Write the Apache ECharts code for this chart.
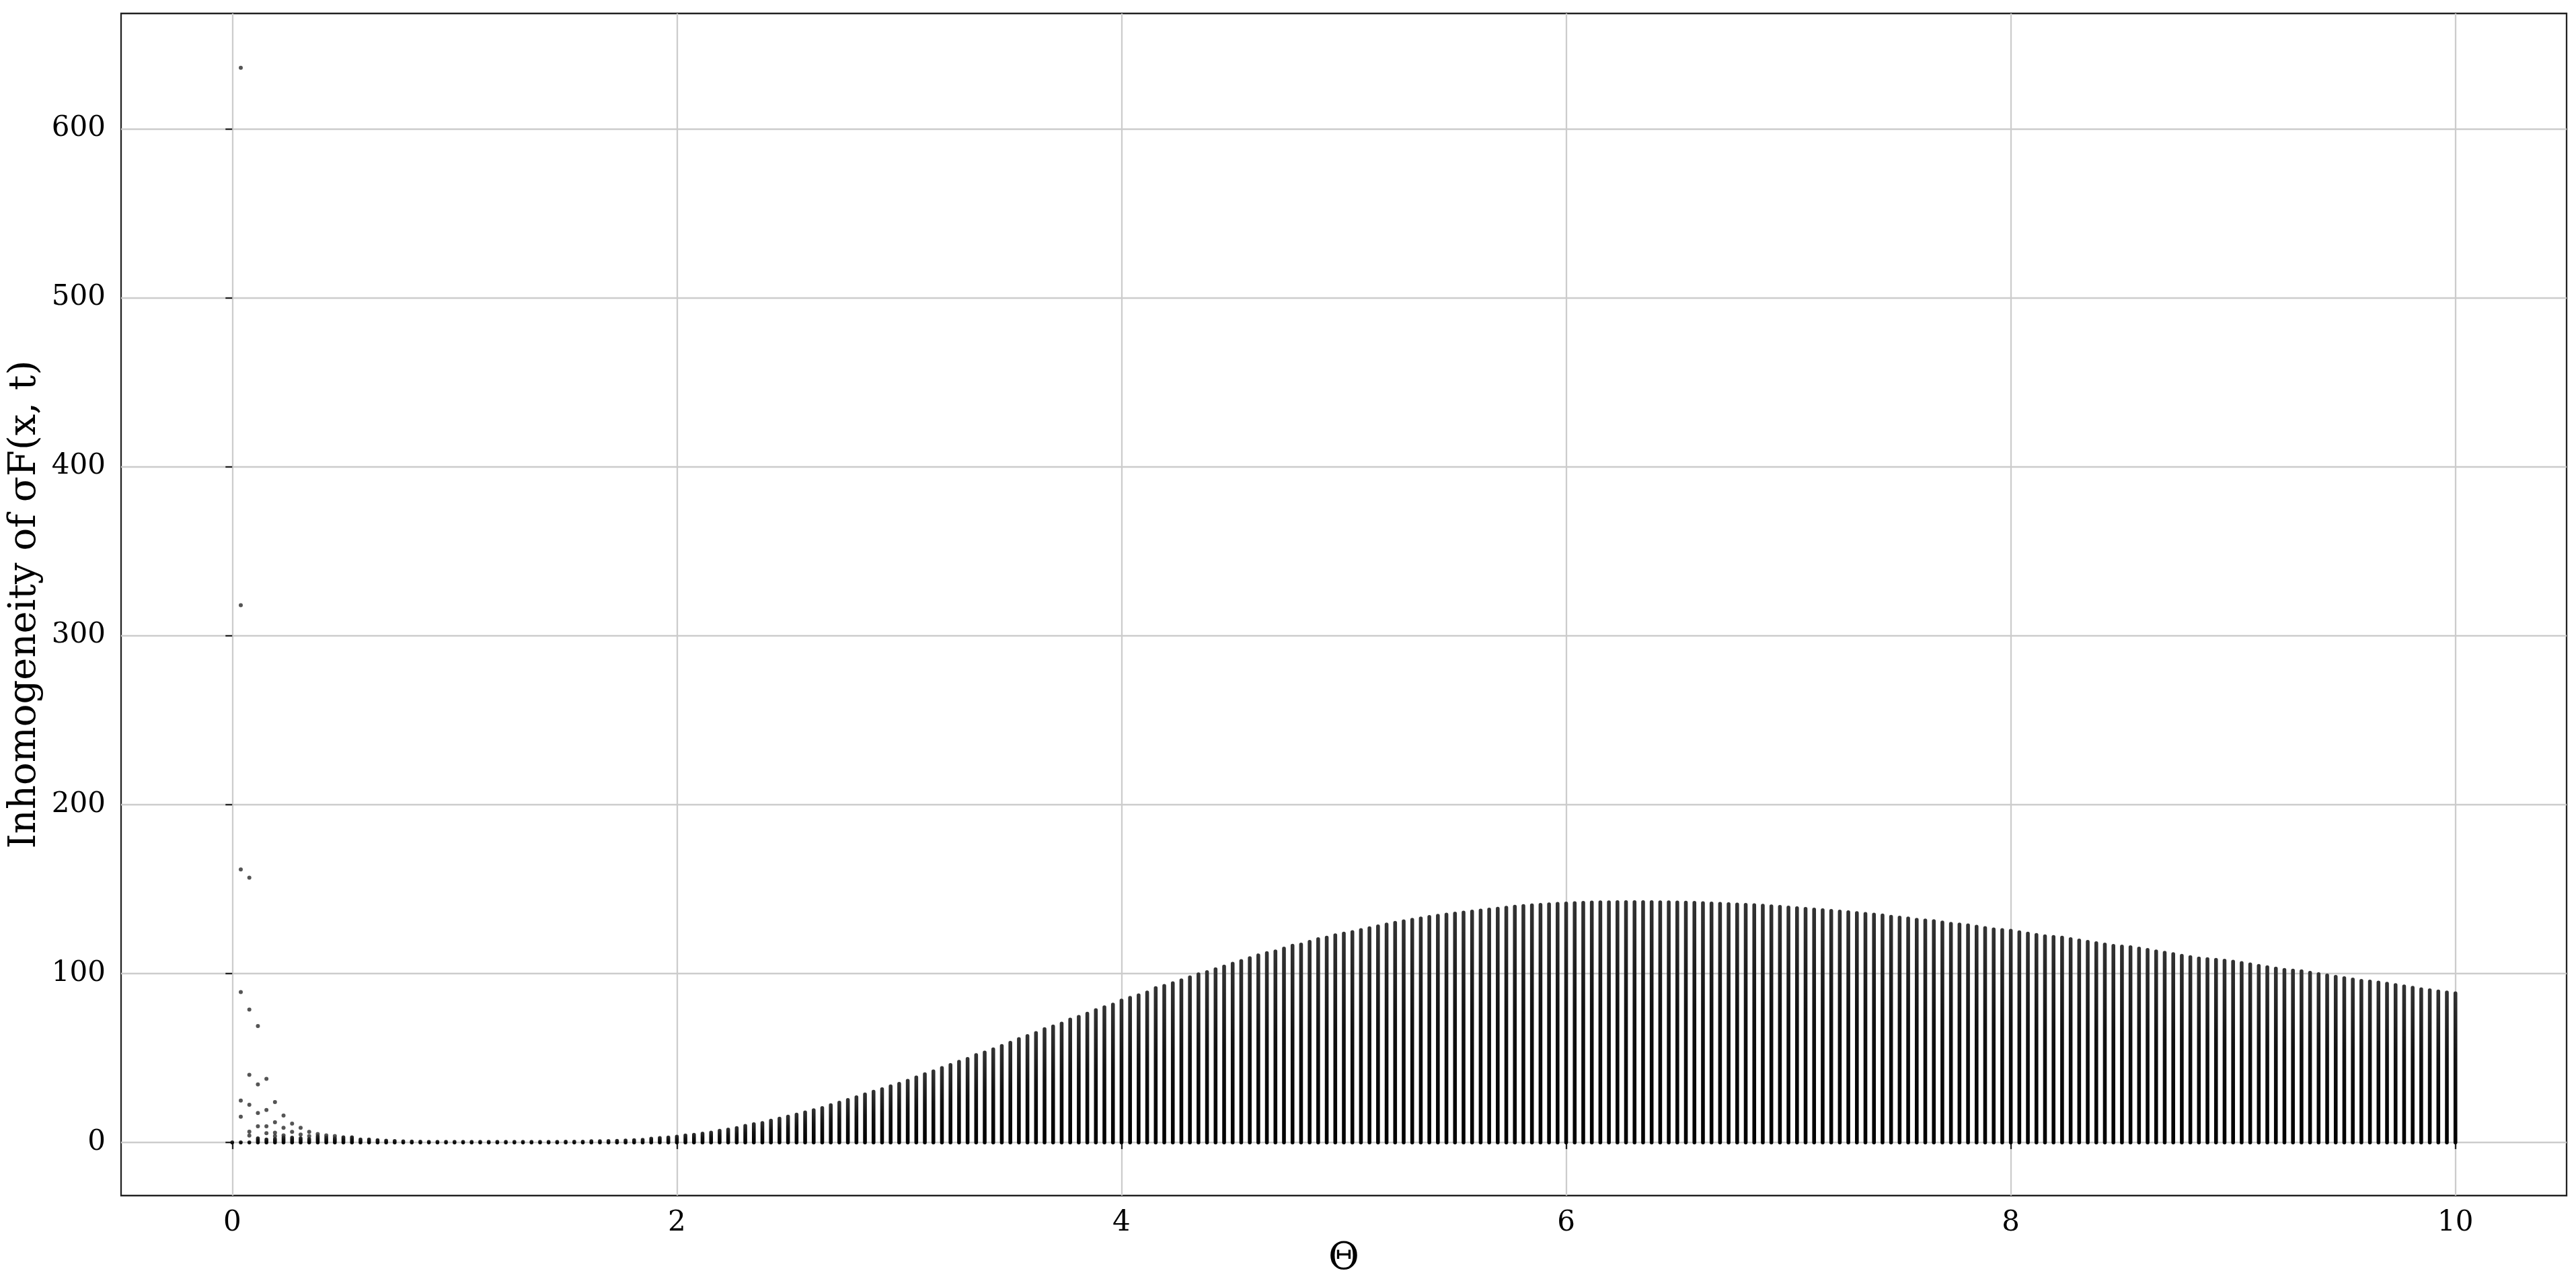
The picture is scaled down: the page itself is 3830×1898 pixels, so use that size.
<!DOCTYPE html>
<html>
<head>
<meta charset="utf-8">
<script src="https://cdn.jsdelivr.net/npm/echarts@6/dist/echarts.min.js"></script>
<style>
  html, body { margin: 0; padding: 0; background: #ffffff; }
  #chart { width: 3830px; height: 1898px; }
</style>
</head>
<body>
<div id="chart"></div>
<script>
// ---- Data ----
// Upper end of the dense point column at each Θ sample (Θ from 0 to 10, 261 samples)
const colMaxLow = [ // Θ ≈ 0.00 – 1.96
  0, 0, 0, 2.4, 1.7, 2.0, 3.0, 2.8, 2.4, 2.0,
  3.7, 3.0, 2.4, 3.0, 3.0, 1.7, 1.7, 1.3, 1.0, 0.8,
  0.6, 0.5, 0.4, 0.3, 0.3, 0.3, 0.3, 0.3, 0.3, 0.3,
  0.3, 0.3, 0.3, 0.3, 0.3, 0.3, 0.3, 0.3, 0.3, 0.4,
  0.4, 0.4, 0.7, 0.7, 0.8, 0.9, 1.1, 1.3, 1.5, 2.2,
  2.6, 2.9
];
const colMaxRise = [ // Θ ≈ 2.00 – 5.00
  3.4, 4.1, 4.5, 5.2, 5.8, 6.9, 7.6, 8.5, 9.8, 10.8,
  11.5, 12.9, 14.1, 15.3, 16.5, 17.8, 19.1, 20.4, 22.0, 23.5,
  25.1, 26.7, 28.4, 30.0, 31.5, 33.2, 34.7, 36.5, 38.5, 40.4,
  42.1, 44.0, 45.8, 47.7, 49.4, 51.7, 53.2, 55.1, 57.1, 59.0,
  61.2, 63.0, 64.8, 67.0, 68.6, 70.3, 72.7, 74.3, 76.2, 78.3,
  80.0, 81.6, 84.0, 85.6, 87.1, 88.7, 91.3, 92.6, 94.2, 95.9,
  97.7, 99.5, 100.8, 102.5, 104.1, 105.8, 107.4, 109.1, 110.7, 112.0,
  113.0, 114.7, 116.4, 117.1, 118.7, 120.3, 121.2, 122.6, 123.6
];
const colMaxPeak = [ // Θ ≈ 5.04 – 7.69
  124.5, 125.7, 126.8, 127.9, 129.0, 130.0, 130.9, 131.8, 132.6, 133.4,
  134.1, 134.8, 135.4, 136.0, 136.6, 137.2, 137.8, 138.3, 138.9, 139.5,
  139.9, 140.3, 140.6, 140.9, 141.2, 141.4, 141.6, 141.8, 142.0, 142.1,
  142.1, 142.2, 142.2, 142.2, 142.2, 142.2, 142.1, 142.1, 142.0, 141.9,
  141.8, 141.6, 141.4, 141.2, 141.0, 140.8, 140.6, 140.4, 140.1, 139.7,
  139.4, 139.0, 138.6, 138.2, 137.8, 137.4, 137.0, 136.6, 136.2, 135.7,
  135.2, 134.8, 134.3, 133.5, 133.1, 132.6, 131.8, 131.4, 131.0, 130.2
];
const colMaxTail = [ // Θ ≈ 7.73 – 10.00
  129.4, 129.0, 128.5, 127.7, 126.9, 126.1, 125.7, 125.3, 124.4, 123.6,
  122.8, 122.0, 121.6, 121.2, 120.3, 119.5, 118.7, 117.9, 117.1, 116.3,
  115.9, 115.5, 114.7, 113.9, 113.0, 112.2, 111.4, 110.5, 109.7, 108.9,
  108.5, 108.1, 107.6, 107.0, 106.2, 105.4, 104.5, 103.7, 102.9, 102.1,
  101.7, 101.3, 100.4, 99.6, 98.8, 98.0, 97.2, 96.4, 95.6, 95.2,
  94.6, 93.9, 93.1, 92.3, 91.5, 90.6, 90.0, 89.3, 88.7, 88.2
];
// Isolated points at small Θ: sample index of the column and value
const outlierColumn = [1, 1, 1, 1, 1, 1, 2, 2, 2, 2, 2, 2, 3, 3, 3, 3, 4, 4, 4, 4,
  5, 5, 5, 5, 6, 6, 6, 7, 7, 8, 8, 9, 9, 10, 11, 12];
const outlierValue = [636, 318, 161.5, 89.0, 24.8, 15.2, 156.7, 78.6, 40.0, 22.3, 6.3, 4.0,
  68.9, 34.3, 17.4, 9.5, 37.6, 19.2, 9.5, 5.4, 23.9, 11.9, 5.7, 3.7, 15.9, 8.6, 4.1,
  11.1, 6.2, 8.6, 4.6, 6.2, 3.7, 4.9, 4.1, 3.7];
const xTicks = [0, 2, 4, 6, 8, 10];
const yTicks = [0, 100, 200, 300, 400, 500, 600];
const THETA_START = 0, THETA_END = 10;

// ---- Build series data ----
const colMax = colMaxLow.concat(colMaxRise, colMaxPeak, colMaxTail);
const nCols = colMax.length;
const thetaOf = i => THETA_START + i * (THETA_END - THETA_START) / (nCols - 1);
const columnData = colMax.map((m, i) => [thetaOf(i), 0, m]);
const outlierData = outlierColumn.map((c, i) => [thetaOf(c), outlierValue[i]]);

const FONT = "'DejaVu Serif', 'Liberation Serif', serif";
const INK = '#222222';
const COL_W = 5.6;

const chart = echarts.init(document.getElementById('chart'), null, { renderer: 'canvas' });
chart.setOption({
  backgroundColor: '#ffffff',
  animation: false,
  grid: {
    left: 180, right: 14, top: 20, bottom: 121,
    outerBoundsMode: 'none', containLabel: false,
    show: true, borderColor: INK, borderWidth: 2.3, backgroundColor: 'transparent'
  },
  xAxis: {
    type: 'value', min: -0.5, max: 10.5,
    minInterval: 2, maxInterval: 2, splitNumber: 5,
    name: 'Θ', nameLocation: 'middle', nameGap: 60,
    nameTextStyle: { fontFamily: FONT, fontSize: 56, color: '#000' },
    axisLine: { show: false },
    axisTick: { show: true, length: 10, customValues: xTicks, lineStyle: { color: INK, width: 2.3 } },
    axisLabel: { show: true, margin: 20, customValues: xTicks, fontFamily: FONT, fontSize: 42, color: '#000',
      formatter: v => String(v) },
    splitLine: { show: true, lineStyle: { color: '#cccccc', width: 2.3 } }
  },
  yAxis: {
    type: 'value', min: -31.5, max: 668.2,
    minInterval: 100, maxInterval: 100, splitNumber: 7,
    name: 'Inhomogeneity of σF(x, t)', nameLocation: 'middle', nameGap: 110,
    nameTextStyle: { fontFamily: FONT, fontSize: 56, color: '#000' },
    axisLine: { show: false },
    axisTick: { show: true, length: 10, customValues: yTicks, lineStyle: { color: INK, width: 2.3 } },
    axisLabel: { show: true, margin: 23, customValues: yTicks, fontFamily: FONT, fontSize: 42, color: '#000',
      formatter: v => String(v) },
    splitLine: { show: true, lineStyle: { color: '#cccccc', width: 2.3 } }
  },
  series: [
    {
      type: 'custom',
      name: 'columns',
      clip: true,
      data: columnData,
      encode: { x: 0, y: [1, 2] },
      renderItem: function (params, api) {
        const x = api.value(0);
        const lo = api.value(1);
        const hi = api.value(2);
        const pTop = api.coord([x, hi]);
        const pBot = api.coord([x, lo]);
        const h = pBot[1] - pTop[1] + COL_W;
        return {
          type: 'rect',
          shape: { x: pTop[0] - COL_W / 2, y: pTop[1] - COL_W / 2, width: COL_W, height: h, r: COL_W / 2 },
          style: {
            fill: new echarts.graphic.LinearGradient(0, 0, 0, 1, [
              { offset: 0, color: '#333333' },
              { offset: 0.45, color: '#111111' },
              { offset: 1, color: '#000000' }
            ])
          }
        };
      }
    },
    {
      type: 'scatter',
      name: 'isolated',
      data: outlierData,
      symbol: 'circle',
      symbolSize: 6,
      itemStyle: { color: '#2a2a2a' }
    }
  ]
});
</script>
</body>
</html>
